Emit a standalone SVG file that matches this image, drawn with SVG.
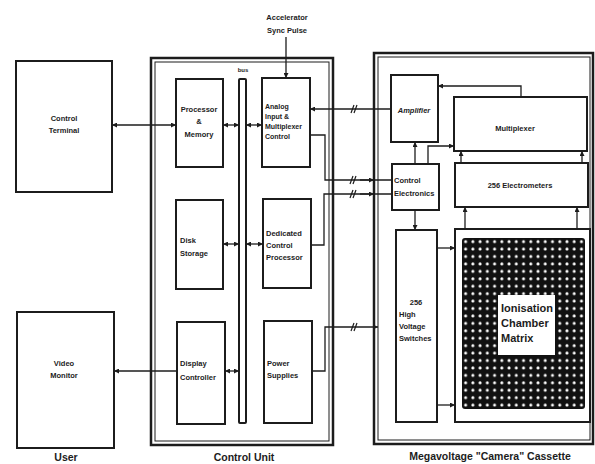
<svg xmlns="http://www.w3.org/2000/svg" width="595" height="464" viewBox="0 0 595 464">
<style>
.box{fill:none;stroke:#1c1c1c;stroke-width:2}
.outer{fill:none;stroke:#1c1c1c;stroke-width:2.5}
.inner{fill:none;stroke:#1c1c1c;stroke-width:1}
.t{font-family:"Liberation Sans",Arial,sans-serif;font-weight:bold;font-size:7.5px;fill:#1c1c1c}
.s{font-size:7px}
.c{text-anchor:middle}
.lbl{font-family:"Liberation Sans",Arial,sans-serif;font-weight:bold;font-size:10.5px;fill:#1c1c1c;text-anchor:middle}
.big{font-family:"Liberation Sans",Arial,sans-serif;font-weight:bold;font-size:11px;fill:#1c1c1c}
.ln{fill:none;stroke:#1c1c1c;stroke-width:1.3}
.sl{fill:none;stroke:#1c1c1c;stroke-width:1.2}
</style>
<defs>
<marker id="ah" viewBox="0 0 10 10" refX="10" refY="5" markerWidth="5" markerHeight="5" orient="auto-start-reverse" markerUnits="userSpaceOnUse">
<path d="M0,0 L10,5 L0,10 z" fill="#1c1c1c"/>
</marker>
<pattern id="dots" patternUnits="userSpaceOnUse" x="462" y="238" width="7.24" height="7.43">
<rect width="7.24" height="7.43" fill="#111"/>
<circle cx="3.62" cy="3.7" r="1.5" fill="#fff"/>
</pattern>
</defs>
<rect width="595" height="464" fill="#fff"/>

<g id="control-terminal">
<rect class="box" x="16" y="61" width="96" height="131"/>
<text class="t c" x="64" y="121">Control</text>
<text class="t c" x="64" y="133">Terminal</text>
</g>
<g id="video-monitor">
<rect class="box" x="17" y="312" width="97" height="136"/>
<text class="t c" x="64" y="366">Video</text>
<text class="t c" x="64" y="378">Monitor</text>
</g>
<g id="control-unit">
<rect class="outer" x="151" y="58" width="182" height="387"/>
<rect class="inner" x="155" y="62" width="174" height="379"/>
</g>
<g id="processor-memory">
<rect class="box" x="176" y="79" width="47" height="88"/>
<text class="t c" x="199" y="112">Processor</text>
<text class="t c" x="199" y="124">&amp;</text>
<text class="t c" x="199" y="137">Memory</text>
</g>
<g id="bus">
<rect class="box" x="239" y="79" width="7" height="344" rx="1"/>
<text class="t c" x="243" y="72" style="font-size:6px">bus</text>
</g>
<g id="analog-input">
<rect class="box" x="262" y="78" width="48" height="89"/>
<text class="t s" x="265" y="109">Analog</text>
<text class="t s" x="265" y="119">Input &amp;</text>
<text class="t s" x="265" y="129">Multiplexer</text>
<text class="t s" x="265" y="139">Control</text>
</g>
<g id="disk-storage">
<rect class="box" x="176" y="200" width="47" height="89"/>
<text class="t" x="180" y="243">Disk</text>
<text class="t" x="180" y="256">Storage</text>
</g>
<g id="dedicated-control-processor">
<rect class="box" x="263" y="199" width="48" height="89"/>
<text class="t" x="266" y="236">Dedicated</text>
<text class="t" x="266" y="248">Control</text>
<text class="t" x="266" y="260">Processor</text>
</g>
<g id="display-controller">
<rect class="box" x="177" y="322" width="48" height="102"/>
<text class="t" x="180" y="366">Display</text>
<text class="t" x="180" y="380">Controller</text>
</g>
<g id="power-supplies">
<rect class="box" x="264" y="321" width="48" height="102"/>
<text class="t" x="267" y="366">Power</text>
<text class="t" x="267" y="378">Supplies</text>
</g>
<g id="cassette">
<rect class="outer" x="374" y="53" width="219" height="391"/>
<rect class="inner" x="378" y="57" width="212" height="383"/>
</g>
<g id="amplifier">
<rect class="box" x="391" y="75" width="47" height="67"/>
<text class="t c" x="414" y="113" style="font-style:italic">Amplifier</text>
</g>
<g id="multiplexer">
<rect class="box" x="454" y="97" width="133" height="54"/>
<text class="t c" x="515" y="131">Multiplexer</text>
</g>
<g id="electrometers">
<rect class="box" x="455" y="163" width="133" height="44"/>
<text class="t c" x="520" y="188">256 Electrometers</text>
</g>
<g id="control-electronics">
<rect class="box" x="392" y="164" width="47" height="46"/>
<text class="t" x="394" y="183">Control</text>
<text class="t" x="394" y="196">Electronics</text>
</g>
<g id="hv-switches">
<rect class="box" x="396" y="230" width="41" height="192"/>
<text class="t c" x="416" y="305">256</text>
<text class="t" x="399" y="317">High</text>
<text class="t" x="399" y="329">Voltage</text>
<text class="t" x="399" y="341">Switches</text>
</g>
<g id="ionisation-chamber-matrix">
<rect class="box" x="455" y="229" width="135" height="193"/>
<rect x="462" y="238" width="123" height="171" rx="3" fill="url(#dots)"/>
<rect x="498" y="295" width="57" height="60" fill="#fff"/>
<text class="big" x="501" y="312">Ionisation</text>
<text class="big" x="501" y="327">Chamber</text>
<text class="big" x="501" y="342">Matrix</text>
</g>
<g id="labels">
<text class="t c" x="287" y="20">Accelerator</text>
<text class="t c" x="287" y="33">Sync Pulse</text>
<text class="lbl" x="66" y="461">User</text>
<text class="lbl" x="244" y="461">Control Unit</text>
<text class="lbl" x="490" y="460">Megavoltage "Camera" Cassette</text>
</g>

<g id="connectors">
<path class="ln" d="M112,125 H176" marker-start="url(#ah)" marker-end="url(#ah)"/>
<path class="ln" d="M223,125 H239" marker-start="url(#ah)" marker-end="url(#ah)"/>
<path class="ln" d="M246,125 H262" marker-start="url(#ah)" marker-end="url(#ah)"/>
<path class="ln" d="M223,244 H239" marker-start="url(#ah)" marker-end="url(#ah)"/>
<path class="ln" d="M246,244 H263" marker-start="url(#ah)" marker-end="url(#ah)"/>
<path class="ln" d="M225,371 H239" marker-start="url(#ah)" marker-end="url(#ah)"/>
<path class="ln" d="M177,371 H114" marker-end="url(#ah)"/>
<path class="ln" d="M286,37 V78" marker-end="url(#ah)"/>
<path class="ln" d="M391,109 H310" marker-end="url(#ah)"/>
<path class="ln" d="M310,135 H325 V180 H392"/>
<path class="ln" d="M360,180 H374" marker-end="url(#ah)"/>
<path class="ln" d="M311,245 H324 V194 H392"/>
<path class="ln" d="M360,194 H374" marker-end="url(#ah)"/>
<path class="ln" d="M312,371 H325 V327 H378" marker-end="url(#ah)"/>
<path class="ln" d="M415,164 V142" marker-end="url(#ah)"/>
<path class="ln" d="M428,164 V146 H454" marker-end="url(#ah)"/>
<path class="ln" d="M521,97 V86 H438" marker-end="url(#ah)"/>
<path class="ln" d="M461,163 V151" marker-end="url(#ah)"/>
<path class="ln" d="M582,163 V151" marker-end="url(#ah)"/>
<path class="ln" d="M465,229 V207" marker-end="url(#ah)"/>
<path class="ln" d="M577,229 V207" marker-end="url(#ah)"/>
<path class="ln" d="M415,210 V230" marker-end="url(#ah)"/>
<path class="ln" d="M437,248 H455" marker-end="url(#ah)"/>
<path class="ln" d="M437,405 H455" marker-end="url(#ah)"/>
<path class="sl" d="M351,113 L354,105 M354,113 L357,105"/>
<path class="sl" d="M350,184 L353,176 M353,184 L356,176"/>
<path class="sl" d="M350,198 L353,190 M353,198 L356,190"/>
<path class="sl" d="M351,331 L354,323 M354,331 L357,323"/>
</g>
</svg>
